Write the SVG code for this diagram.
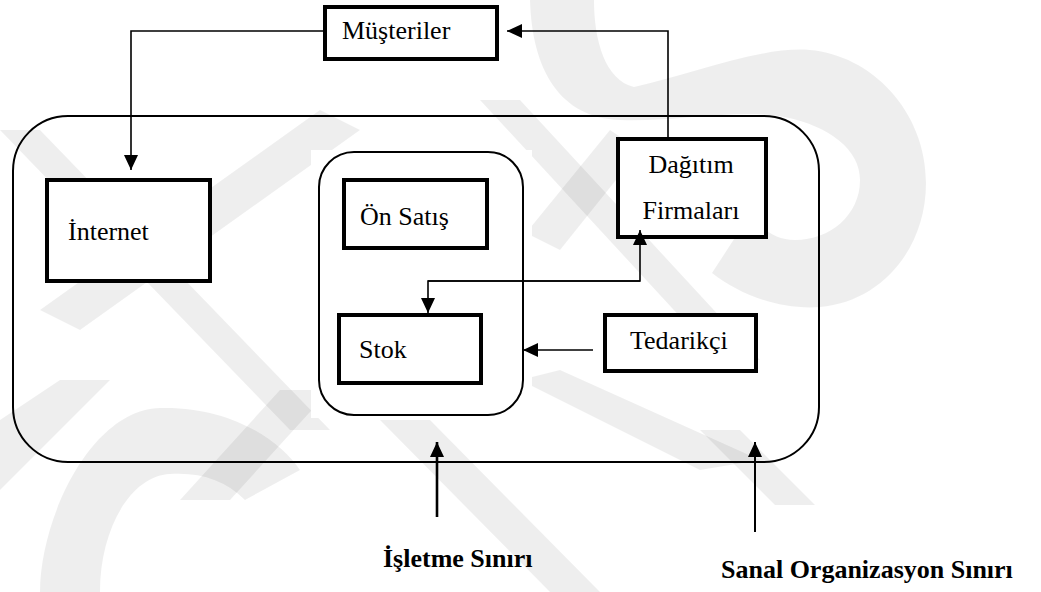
<svg xmlns="http://www.w3.org/2000/svg" width="1041" height="592" viewBox="0 0 1041 592">
  <style>
    .box { fill: #ffffff; stroke: #000000; stroke-width: 4; }
    .frame { fill: none; stroke: #000000; stroke-width: 2; }
    .lbl { font-family: "Liberation Serif", "Times New Roman", serif; font-size: 26px; fill: #000000; }
    .cap { font-family: "Liberation Serif", "Times New Roman", serif; font-size: 26px; font-weight: bold; fill: #000000; }
    .wire { fill: none; stroke: #000000; stroke-width: 1.6; }
    .pointer { fill: none; stroke: #000000; }
    .wm { fill: #000000; fill-opacity: 0.065; }
  </style>
  <defs>
    <marker id="head" viewBox="0 0 15 14" refX="15" refY="7" markerWidth="15" markerHeight="14" markerUnits="userSpaceOnUse" orient="auto">
      <path d="M0 0 L15 7 L0 14 Z" fill="#000000"/>
    </marker>
  </defs>

  <rect x="0" y="0" width="1041" height="592" fill="#ffffff"/>

  <!-- faint background emblem -->
  <g id="emblem">
    <path class="wm" d="M530 0 C532 70 560 118 620 120 C680 122 740 108 784 117 C830 126 860 150 860 180 C860 215 830 240 795 240 C775 240 760 228 751 213 L712 273 C740 295 780 310 820 307 C880 302 926 250 926 183 C926 110 870 55 810 50 C760 46 690 75 634 87 C605 80 594 40 594 0 Z"/>
    <path class="wm" d="M40 592 C40 520 90 410 160 408 C230 406 280 440 300 470 L245 500 C225 480 200 472 170 474 C130 476 100 530 100 592 Z"/>
    <polygon class="wm" points="0,420 0,490 110,380 60,380"/>
    <polygon class="wm" points="180,500 230,500 330,390 280,390"/>
    <polygon class="wm" points="40,310 80,330 360,130 320,110"/>
    <polygon class="wm" points="0,130 40,130 330,430 290,430"/>
    <polygon class="wm" points="380,420 430,420 600,592 550,592"/>
    <polygon class="wm" points="480,100 520,100 760,360 720,360"/>
    <polygon class="wm" points="526,233 560,250 640,150 610,130"/>
    <polygon class="wm" points="520,380 560,370 760,460 700,470"/>
    <polygon class="wm" points="700,430 740,430 815,505 775,505"/>
  </g>

  <!-- virtual organisation boundary -->
  <g id="sanal-sinir">
    <rect class="frame" x="13" y="116" width="806" height="346" rx="55" ry="55"/>
  </g>

  <!-- enterprise boundary -->
  <g id="isletme-sinir">
    <rect x="311" y="150" width="221" height="268" fill="#ffffff"/>
    <rect class="frame" x="319" y="152" width="204" height="263" rx="35" ry="35" stroke-width="1.8"/>
  </g>

  <g id="musteriler">
    <rect class="box" x="325" y="7" width="172" height="52"/>
    <text class="lbl" x="342" y="39">Müşteriler</text>
  </g>

  <g id="internet">
    <rect class="box" x="47" y="180" width="163" height="101"/>
    <text class="lbl" x="68" y="240">İnternet</text>
  </g>

  <g id="on-satis">
    <rect class="box" x="344" y="180" width="143" height="68"/>
    <text class="lbl" x="360" y="225">Ön Satış</text>
  </g>

  <g id="stok">
    <rect class="box" x="339" y="315" width="142" height="68"/>
    <text class="lbl" x="359" y="358">Stok</text>
  </g>

  <g id="dagitim">
    <rect class="box" x="618" y="139" width="148" height="98"/>
    <text class="lbl" x="691" y="173" text-anchor="middle">Dağıtım</text>
    <text class="lbl" x="691" y="219" text-anchor="middle">Firmaları</text>
  </g>

  <g id="tedarikci">
    <rect class="box" x="605" y="315" width="151" height="56"/>
    <text class="lbl" x="630" y="349">Tedarikçi</text>
  </g>

  <g id="connectors">
    <path class="wire" d="M323 31 H131 V170" marker-end="url(#head)"/>
    <path class="wire" d="M668 137 V31 H507" marker-end="url(#head)"/>
    <path class="wire" d="M428 281 H640 V230" marker-end="url(#head)"/>
    <path class="wire" d="M640 281 H428 V313" marker-end="url(#head)"/>
    <path class="wire" d="M593 350 H523" marker-end="url(#head)"/>
    <path class="pointer" d="M437 517 V442" stroke-width="2.6" marker-end="url(#head)"/>
    <path class="pointer" d="M755 532 V442" stroke-width="2" marker-end="url(#head)"/>
  </g>

  <g id="captions">
    <text class="cap" x="383" y="567">İşletme Sınırı</text>
    <text class="cap" x="721" y="578">Sanal Organizasyon Sınırı</text>
  </g>
</svg>
